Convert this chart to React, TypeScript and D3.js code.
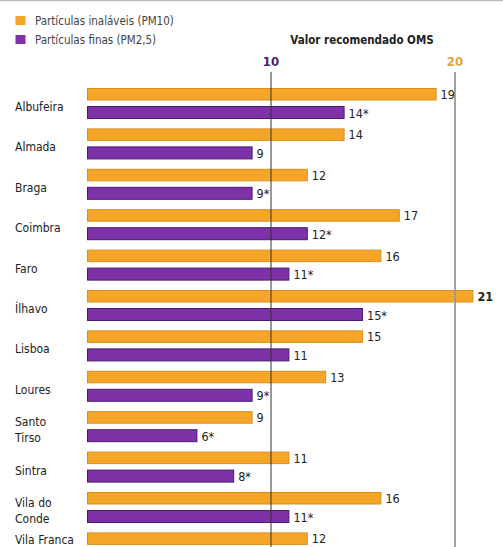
import { useEffect, useRef } from 'react'
import * as d3 from 'd3'

const cities = ['Albufeira', 'Almada', 'Braga', 'Coimbra', 'Faro', 'Ílhavo', 'Lisboa', 'Loures', 'Santo Tirso', 'Sintra', 'Vila do Conde', 'Vila Franca']
const pm10 = [19, 14, 12, 17, 16, 21, 15, 13, 9, 11, 16, 12]
const pm25: (number | null)[] = [14, 9, 9, 12, 11, 15, 11, 9, 6, 8, 11, null]
const pm25Star = [true, false, true, true, true, true, false, true, true, true, true, false]
const cityLines: Record<string, string[]> = {
	'Santo Tirso': ['Santo', 'Tirso'],
	'Vila do Conde': ['Vila do', 'Conde'],
}
const refTicks = [10, 20]

const W = 503
const H = 547
const ORANGE = '#f5a628'
const ORANGE_EDGE = '#d8901c'
const PURPLE = '#7d32a8'
const PURPLE_EDGE = '#4c1a6c'
const FONT = '"DejaVu Sans Condensed", "Liberation Sans Narrow", "DejaVu Sans", sans-serif'

export default function App() {
	const ref = useRef<SVGSVGElement>(null)

	useEffect(() => {
		const svg = d3.select(ref.current)
		svg.selectAll('*').remove()

		const x = d3.scaleLinear().domain([0, 20]).range([87, 455])
		const y = d3.scaleBand().domain(cities).range([84, 84 + 40.4 * cities.length])

		// frame line on top
		svg.append('line').attr('x1', 0).attr('x2', W).attr('y1', 0.5).attr('y2', 0.5)
			.attr('stroke', '#bbb').attr('stroke-width', 1.5)

		// legend
		const legend = [{ label: 'Partículas inaláveis (PM10)', fill: ORANGE }, { label: 'Partículas finas (PM2,5)', fill: PURPLE }]
		legend.forEach((l, i) => {
			svg.append('rect').attr('x', 15.5).attr('y', 16 + i * 19).attr('width', 10).attr('height', 9)
				.attr('fill', l.fill)
			svg.append('text').attr('x', 35).attr('y', 24.5 + i * 19)
				.attr('font-size', '11.5px').attr('fill', '#444').attr('font-family', FONT)
				.text(l.label)
		})

		svg.append('text').attr('x', 362).attr('y', 44)
			.attr('text-anchor', 'middle').attr('font-size', '11.5px').attr('font-weight', 'bold')
			.attr('fill', '#222').attr('font-family', FONT)
			.text('Valor recomendado OMS')

		refTicks.forEach(t => {
			svg.append('text').attr('x', x(t)).attr('y', 66)
				.attr('text-anchor', 'middle').attr('font-size', '13px').attr('font-weight', 'bold')
				.attr('fill', t === 10 ? '#4a1f6b' : '#e0a43c').attr('font-family', FONT)
				.text(t)
		})

		// bars
		const g = svg.append('g')
		cities.forEach((c, i) => {
			const y0 = y(c)!
			g.append('rect').attr('x', x(0) + 0.5).attr('y', y0 + 4.5)
				.attr('width', x(pm10[i]) - x(0) - 1).attr('height', 11.5)
				.attr('fill', ORANGE).attr('stroke', ORANGE_EDGE).attr('stroke-width', 1)
			g.append('text').attr('x', x(pm10[i]) + 4).attr('y', y0 + 15)
				.attr('font-size', '12.5px').attr('fill', '#222').attr('font-family', FONT)
				.attr('font-weight', pm10[i] > 20 ? 'bold' : 'normal')
				.text(pm10[i])

			const v = pm25[i]
			if (v != null) {
				g.append('rect').attr('x', x(0) + 0.5).attr('y', y0 + 22.5)
					.attr('width', x(v) - x(0) - 1).attr('height', 12)
					.attr('fill', PURPLE).attr('stroke', PURPLE_EDGE).attr('stroke-width', 1)
				g.append('text').attr('x', x(v) + 4).attr('y', y0 + 33.5)
					.attr('font-size', '12.5px').attr('fill', '#222').attr('font-family', FONT)
					.text(`${v}${pm25Star[i] ? '*' : ''}`)
			}

			const lines = cityLines[c] || [c]
			const mid = v != null ? y0 + 23 : y0 + 11.5
			lines.forEach((ln, k) => {
				svg.append('text').attr('x', 15).attr('y', mid + 4 + (k - (lines.length - 1) / 2) * 16)
					.attr('font-size', '12px').attr('fill', '#222').attr('font-family', FONT)
					.text(ln)
			})
		})

		// reference lines
		svg.append('line').attr('x1', x(10)).attr('x2', x(10)).attr('y1', 72).attr('y2', H)
			.attr('stroke', '#333').attr('stroke-width', 1)
		svg.append('line').attr('x1', x(20)).attr('x2', x(20)).attr('y1', 72).attr('y2', H)
			.attr('stroke', '#999').attr('stroke-width', 1.8)
	}, [])

	return (
		<svg ref={ref} width={W} height={H}
			style={{ position: 'absolute', left: 0, top: 0, background: '#fff' }} />
	)
}
